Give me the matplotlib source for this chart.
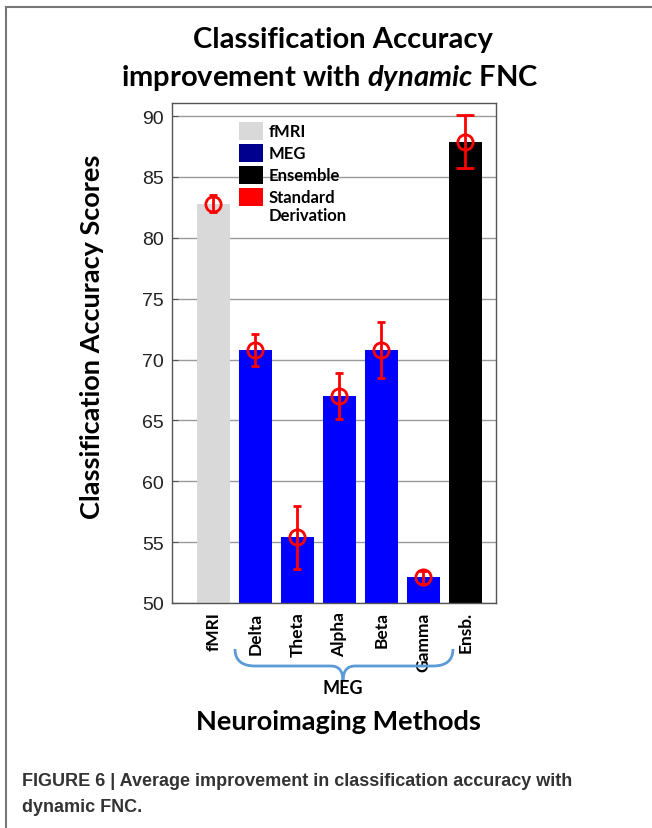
import matplotlib
matplotlib.use("Agg")
import matplotlib.pyplot as plt
from matplotlib.patches import Rectangle
from matplotlib.path import Path
from matplotlib.patches import PathPatch
from matplotlib.lines import Line2D

# ── Dados ──────────────────────────────────────────────
metodos = ["fMRI", "Delta", "Theta", "Alpha", "Beta", "Gamma", "Ensb."]
acuracia = [82.8, 70.8, 55.4, 67.0, 70.8, 52.1, 87.9]
desvio = [0.7, 1.3, 2.6, 1.9, 2.3, 0.5, 2.2]
cores_barras = ["#d9d9d9", "#0000ff", "#0000ff", "#0000ff", "#0000ff", "#0000ff", "#000000"]
legenda_rotulos = ["fMRI", "MEG", "Ensemble", "Standard\nDerivation"]
legenda_cores = ["#d9d9d9", "#00008f", "#000000", "#ff0000"]

W, H = 652, 829
plt.rcParams["mathtext.fontset"] = "custom"
plt.rcParams["mathtext.it"] = "Lato:italic:bold"
plt.rcParams["mathtext.rm"] = "Lato:bold"

fig = plt.figure(figsize=(W / 100, H / 100), dpi=100)
fig.patch.set_facecolor("white")


def px(x, y):
    """pixel (a partir do topo) -> fração da figura"""
    return x / W, 1 - y / H


# eixo principal
l, t, r, b = 172, 104, 496, 604
ax = fig.add_axes([l / W, 1 - b / H, (r - l) / W, (b - t) / H])
pos = list(range(1, len(metodos) + 1))
ax.bar(pos, acuracia, width=0.79, color=cores_barras, zorder=1)
for p, v, d in zip(pos, acuracia, desvio):
    ax.errorbar(p, v, yerr=d, fmt="o", mfc="none", mec="#ff0000", ms=11, mew=2,
                ecolor="#ff0000", elinewidth=2, capsize=6.5 if p == pos[-1] else 3,
                capthick=2, zorder=3)

ax.set_ylim(50, 91.07)
ax.set_xlim(0.012, 7.73)
ax.set_yticks(range(50, 91, 5))
ax.set_axisbelow(True)
ax.yaxis.grid(True, color="#9a9a9a", lw=1)
ax.tick_params(axis="y", direction="in", length=4, color="#555555",
               labelsize=14, labelcolor="#222222", pad=6)
for lab in ax.get_yticklabels():
    lab.set_family("Liberation Sans")
ax.set_xticks(pos)
ax.set_xticklabels(metodos, rotation=90, fontsize=12.5, fontweight="bold",
                   family="Lato", va="top")
ax.tick_params(axis="x", length=0, pad=6)
for s in ax.spines.values():
    s.set_color("#555555")
    s.set_linewidth(1)

# legenda manual
for i, (rot, cor) in enumerate(zip(legenda_rotulos, legenda_cores)):
    y0 = 123 + i * 22
    x0, y1 = px(239, y0 + 18)
    fig.add_artist(Rectangle((x0, y1), 24 / W, 18 / H, transform=fig.transFigure,
                             facecolor=cor, edgecolor="none", zorder=0.4))
    fig.text(*px(269, y0 + 9), rot.split("\n")[0], fontsize=12, fontweight="bold",
             family="Lato", va="center", ha="left")
    if "\n" in rot:
        fig.text(*px(269, y0 + 27), rot.split("\n")[1], fontsize=12,
                 fontweight="bold", family="Lato", va="center", ha="left")

# títulos
fig.text(*px(343, 40), "Classification Accuracy", ha="center", va="center",
         fontsize=21, fontweight="bold", family="Lato")
fig.text(*px(330, 78), r"improvement with $dynamic$ FNC", ha="center", va="center",
         fontsize=21, fontweight="bold", family="Lato")
fig.text(*px(92, 337), "Classification Accuracy Scores", rotation=90, ha="center",
         va="center", fontsize=19.5, fontweight="bold", family="Lato")
fig.text(*px(338, 722), "Neuroimaging Methods", ha="center", va="center",
         fontsize=19.5, fontweight="bold", family="Lato")
fig.text(*px(343, 689), "MEG", ha="center", va="center", fontsize=13,
         fontweight="bold", family="Lato")

# chave azul sob as bandas MEG
xa, xb, xm = 235, 453, 343
ys, yh, yp = 650, 667, 682
pts = [(xa, ys), (xa, yh), (xa + 20, yh), (xa + 20, yh),
       (xm - 12, yh), (xm, yh), (xm, yp),
       (xm, yh), (xm + 12, yh), (xb - 20, yh),
       (xb - 20, yh), (xb, yh), (xb, ys)]
codes = [Path.MOVETO, Path.CURVE3, Path.CURVE3, Path.LINETO,
         Path.LINETO, Path.CURVE3, Path.CURVE3,
         Path.CURVE3, Path.CURVE3, Path.LINETO,
         Path.LINETO, Path.CURVE3, Path.CURVE3]
pts_f = [px(x, y) for x, y in pts]
fig.add_artist(PathPatch(Path(pts_f, codes), transform=fig.transFigure,
                         facecolor="none", edgecolor="#5b9bd5", lw=2))

# moldura da figura
fig.add_artist(Line2D([6 / W, 6 / W], [0, 1 - 8 / H], color="#777777", lw=1.5,
                      transform=fig.transFigure))
fig.add_artist(Line2D([6 / W, 1], [1 - 8 / H, 1 - 8 / H], color="#777777", lw=1.5,
                      transform=fig.transFigure))

# legenda da figura
fonte_cap = ["Liberation Sans Narrow", "Liberation Sans"]
fig.text(*px(22, 782), "FIGURE 6 | Average improvement in classification accuracy with",
         fontsize=13, fontweight="bold", family=fonte_cap, color="#333333", va="center")
fig.text(*px(22, 808), "dynamic FNC.", fontsize=13, fontweight="bold",
         family=fonte_cap, color="#333333", va="center")

fig.savefig("out.png", dpi=100, facecolor="white")
